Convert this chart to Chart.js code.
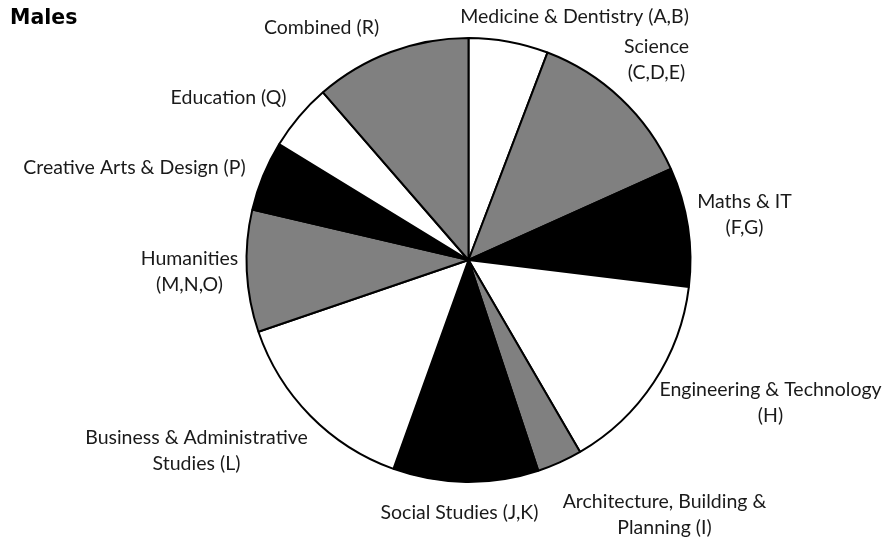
<!DOCTYPE html>
<html>
<head>
<meta charset="utf-8">
<script src="https://cdn.jsdelivr.net/npm/chart.js@4"></script>
<style>
  html, body { margin: 0; padding: 0; background: #ffffff; }
  #wrap { width: 890px; height: 538px; position: relative; }
</style>
</head>
<body>
<div id="wrap"><canvas id="c" width="890" height="538"></canvas></div>
<script>
// ---- data (percent share) ----
const categories = [
  ["Medicine & Dentistry (A,B)"],
  ["Science", "(C,D,E)"],
  ["Maths & IT", "(F,G)"],
  ["Engineering & Technology", "(H)"],
  ["Architecture, Building &", "Planning (I)"],
  ["Social Studies (J,K)"],
  ["Business & Administrative", "Studies (L)"],
  ["Humanities", "(M,N,O)"],
  ["Creative Arts & Design (P)"],
  ["Education (Q)"],
  ["Combined (R)"]
];
const values = [5.8, 12.5, 8.7, 14.7, 3.3, 10.6, 14.3, 8.9, 5.1, 4.9, 11.4];
const title = "Males";

// ---- styles / placement (kept apart from the data) ----
const sliceColors = ["#ffffff", "#808080", "#000000", "#ffffff", "#808080", "#000000",
                     "#ffffff", "#808080", "#000000", "#ffffff", "#808080"];
// label centre offsets from the pie centre, in px
const labelOffsets = [
  [106, -243], [188, -200], [276, -45], [302, 143], [196, 255],
  [-9, 253], [-272, 191], [-279, 12], [-334, -92], [-240, -162], [-147, -232]
];
const labelFont = "19.5px Lato";
const lineHeight = 26;

const labelPlugin = {
  id: 'pieLabels',
  afterDraw(chart) {
    const ctx = chart.ctx;
    const arc = chart.getDatasetMeta(0).data[0];
    const cx = arc.x, cy = arc.y;
    ctx.save();
    ctx.fillStyle = "#1a1a1a";
    ctx.font = labelFont;
    ctx.textAlign = "center";
    ctx.textBaseline = "middle";
    categories.forEach((lines, i) => {
      const [dx, dy] = labelOffsets[i];
      const n = lines.length;
      lines.forEach((t, k) => {
        ctx.fillText(t, cx + dx, cy + dy + (k - (n - 1) / 2) * lineHeight);
      });
    });
    ctx.font = "bold 20.5px 'DejaVu Sans'";
    ctx.textAlign = "left";
    ctx.fillStyle = "#000";
    ctx.fillText(title, 10, 19);
    ctx.restore();
  }
};

new Chart(document.getElementById('c'), {
  type: 'pie',
  data: {
    labels: categories.map(l => l.join(' ')),
    datasets: [{
      data: values,
      backgroundColor: sliceColors,
      borderColor: "#000000",
      borderWidth: 2,
      radius: 222
    }]
  },
  options: {
    responsive: false,
    animation: false,
    layout: { padding: { left: 47, right: 0, top: 0, bottom: 18 } },
    plugins: {
      legend: { display: false },
      tooltip: { enabled: false },
      title: { display: false }
    }
  },
  plugins: [labelPlugin]
});
</script>
</body>
</html>
